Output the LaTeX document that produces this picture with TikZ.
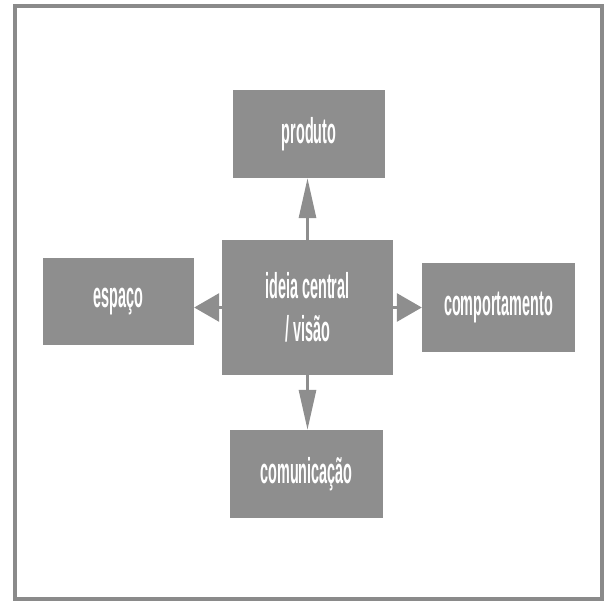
\documentclass[tikz,border=0pt]{standalone}
\usepackage{fontspec}
\setmainfont{Liberation Sans}[FakeStretch=0.4]
\usetikzlibrary{arrows.meta}
\definecolor{boxgray}{HTML}{8E8E8E}
\definecolor{framegray}{HTML}{8A8A8A}
\begin{document}
\begin{tikzpicture}[x=1pt,y=-1pt,
  concept/.style={draw=none, fill=boxgray, text=white, inner sep=0pt,
    align=center, font=\bfseries\fontsize{36}{43}\selectfont},
  link/.style={draw=boxgray, line width=3pt},
  vtip/.style={-{Triangle[length=40pt,width=17pt]}},
  htip/.style={-{Triangle[length=25pt,width=28pt]}}]
  \useasboundingbox (0,0) rectangle (606,605);
  % outer frame
  \draw[framegray, line width=4pt] (15,6) rectangle (601.5,598.5);
  % concept boxes
  \node[concept, minimum width=171pt, minimum height=135pt] (central) at (307.5,307.5) {ideia central\\/ visão};
  \node[concept, minimum width=152pt, minimum height=88pt] (produto) at (309,134) {produto};
  \node[concept, minimum width=151pt, minimum height=87pt] (espaco) at (118.5,301.5) {espaço};
  \node[concept, minimum width=153pt, minimum height=89pt] (comport) at (498.5,307.5) {comportamento};
  \node[concept, minimum width=153pt, minimum height=88pt] (comunic) at (306.5,474) {comunicação};
  % arrows out of the central idea
  \draw[link, vtip] (central.north) -- (central.north |- produto.south);
  \draw[link, vtip] (central.south) -- (central.south |- comunic.north);
  \draw[link, htip] (central.west) -- (central.west -| espaco.east);
  \draw[link, htip] (central.east) -- (central.east -| comport.west);
\end{tikzpicture}
\end{document}
